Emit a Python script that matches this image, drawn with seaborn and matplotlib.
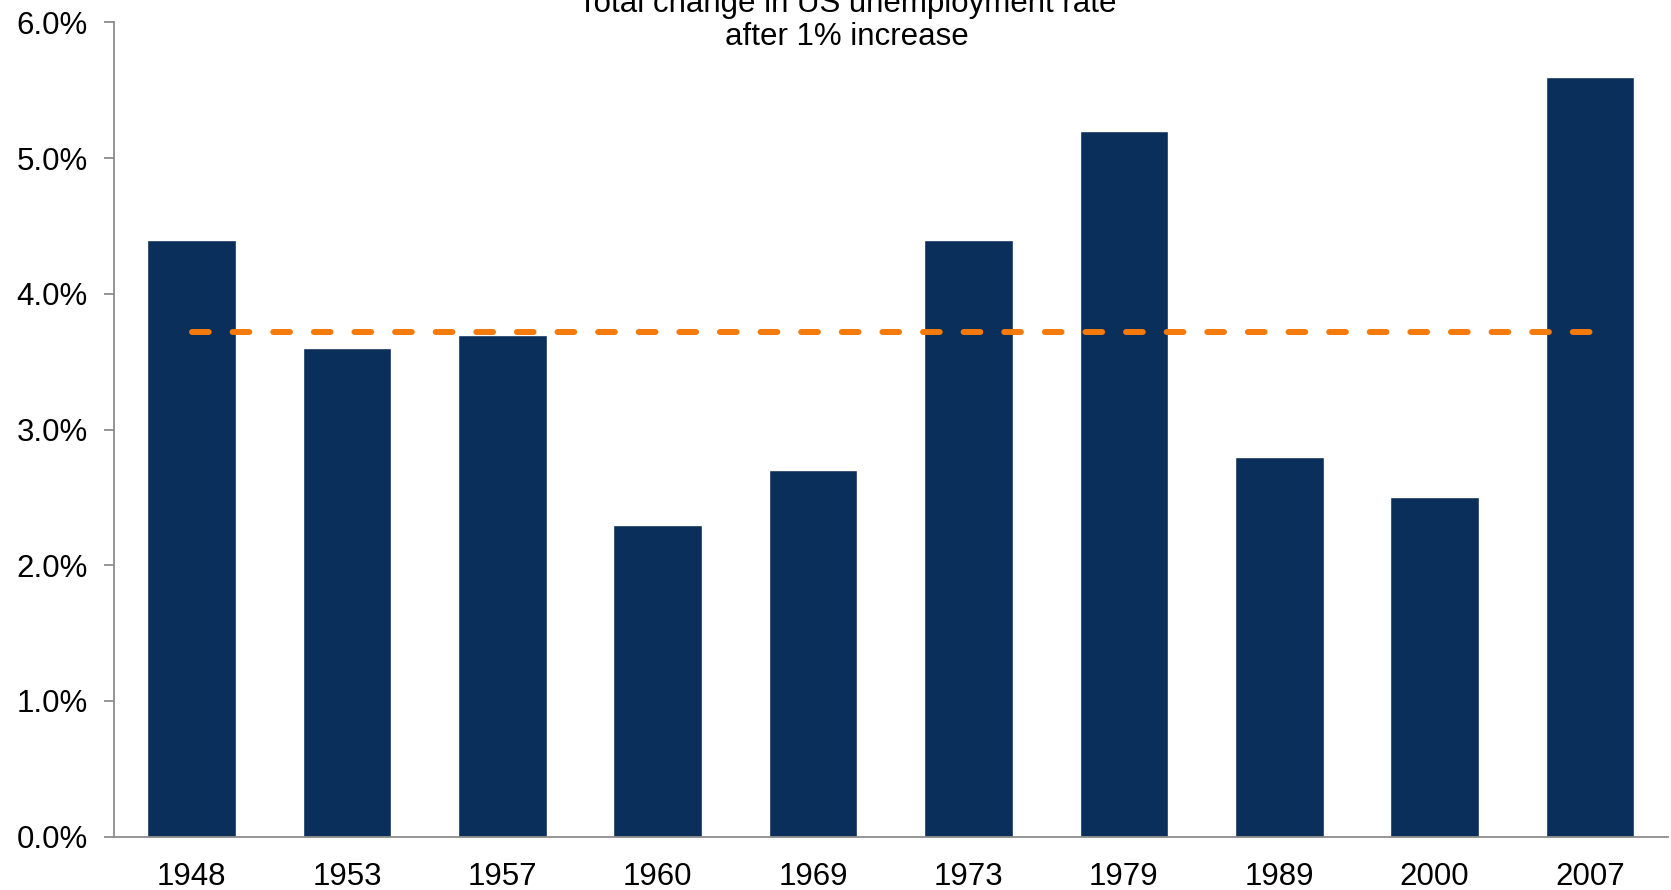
import matplotlib
matplotlib.use("Agg")
import matplotlib.pyplot as plt
import seaborn as sns
from matplotlib.ticker import FuncFormatter, MultipleLocator

# Recession start years and total rise in unemployment (percentage points)
years = ["1948", "1953", "1957", "1960", "1969", "1973", "1979", "1989", "2000", "2007"]
total_change = [4.4, 3.6, 3.7, 2.3, 2.7, 4.4, 5.2, 2.8, 2.5, 5.6]
average_change = sum(total_change) / len(total_change)

title_text = "Total change in US unemployment rate\nafter 1% increase"

bar_color = "#0B2F5B"
avg_color = "#F47A0C"
spine_color = "#8C8C8C"
font_size = 22.5

sns.set_theme(style="white")
plt.rcParams["font.family"] = ["Liberation Sans", "DejaVu Sans"]

fig = plt.figure(figsize=(16.71, 8.90), dpi=100)
ax = fig.add_axes([0.0682, 0.060, 0.9298, 0.9148])

sns.barplot(x=years, y=total_change, order=years, color=bar_color,
            saturation=1, width=0.57, ax=ax, zorder=2)

# Average line drawn across the bar centres
ax.plot([0, len(years) - 1], [average_change, average_change],
        color=avg_color, lw=4.3, linestyle=(0, (2.8, 4.0)),
        dash_capstyle="round", zorder=5)

ax.set_xlim(-0.5, len(years) - 0.5)
ax.set_ylim(0, 6.0)
ax.yaxis.set_major_locator(MultipleLocator(1.0))
ax.yaxis.set_major_formatter(FuncFormatter(lambda v, p: f"{v:.1f}%"))

for side in ("top", "right"):
    ax.spines[side].set_visible(False)
for side in ("left", "bottom"):
    ax.spines[side].set_color(spine_color)
    ax.spines[side].set_linewidth(1.3)

ax.tick_params(axis="y", which="major", left=True, length=7, width=1.3,
               color=spine_color, direction="out", pad=12, labelsize=font_size,
               labelcolor="black")
ax.tick_params(axis="x", which="major", bottom=False, pad=12.5,
               labelsize=font_size, labelcolor="black")
ax.set_xlabel("")
ax.set_ylabel("")

fig.text(0.507, 0.942, title_text, ha="center", va="bottom",
         fontsize=font_size, color="black", linespacing=1.12)

fig.savefig("out.png", dpi=100)
